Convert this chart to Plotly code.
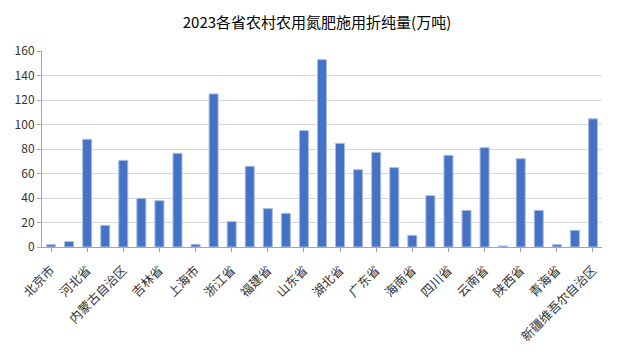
import plotly.graph_objects as go

provinces = ["北京市", "天津市", "河北省", "山西省", "内蒙古自治区", "辽宁省", "吉林省", "黑龙江省",
             "上海市", "江苏省", "浙江省", "安徽省", "福建省", "江西省", "山东省", "河南省",
             "湖北省", "湖南省", "广东省", "广西壮族自治区", "海南省", "重庆市", "四川省", "贵州省",
             "云南省", "西藏自治区", "陕西省", "甘肃省", "青海省", "宁夏回族自治区", "新疆维吾尔自治区"]
values = [1.9, 4.4, 87.9, 17.7, 70.7, 39.7, 37.8, 76.5,
          2.2, 125.0, 20.7, 65.9, 31.3, 27.5, 95.0, 152.9,
          84.6, 63.1, 77.3, 64.8, 9.5, 41.9, 74.8, 29.9,
          81.1, 0.8, 72.1, 29.9, 1.9, 13.6, 104.6]
y_ticks = [0, 20, 40, 60, 80, 100, 120, 140, 160]
title = "2023各省农村农用氮肥施用折纯量(万吨)"

font = "Noto Sans CJK SC, Microsoft YaHei, sans-serif"

fig = go.Figure(go.Bar(
    x=provinces, y=values,
    marker=dict(color="#4472C4", line=dict(color="#A9BEE6", width=1)),
))
fig.update_layout(
    width=618, height=360,
    margin=dict(l=34, r=24, t=43, b=121),
    paper_bgcolor="white", plot_bgcolor="white",
    bargap=0.5,
    showlegend=False,
    title=dict(text=title, x=0.5, xanchor="center", y=0.958, yanchor="middle",
               font=dict(family=font, size=15, color="#000000")),
    font=dict(family=font, size=12, color="#333333"),
)
fig.update_xaxes(
    type="category", tickmode="array",
    tickvals=provinces[::2], ticktext=provinces[::2],
    tickangle=-45, ticks="outside", ticklen=4, tickcolor="#A6A6A6",
    ticklabelstandoff=6,
    showline=True, linecolor="#A6A6A6", linewidth=1,
    showgrid=False, automargin=False,
    tickfont=dict(family=font, size=12.5, color="#333333"),
)
fig.update_yaxes(
    range=[0, 160], tickvals=y_ticks,
    showgrid=True, gridcolor="#D9D9D9", gridwidth=1,
    showline=True, linecolor="#A6A6A6", linewidth=1,
    ticks="outside", ticklen=4, tickcolor="#A6A6A6",
    zeroline=False, automargin=False,
    tickfont=dict(family=font, size=12, color="#333333"),
)
fig.write_html("out.html")
